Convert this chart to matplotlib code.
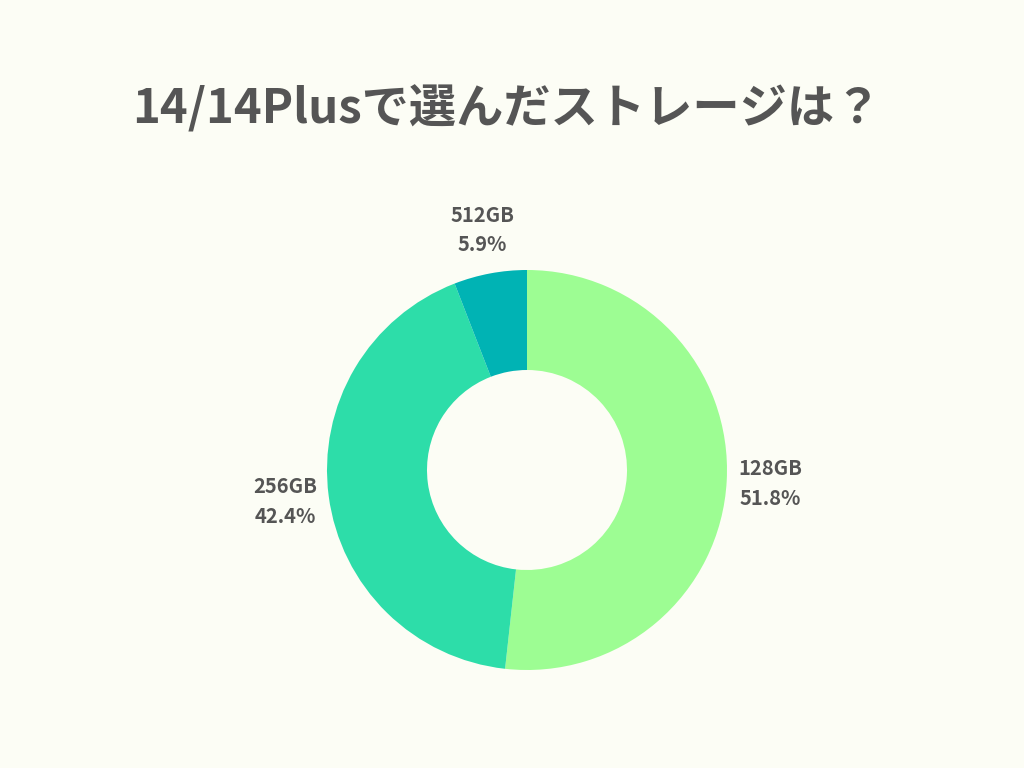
import matplotlib.pyplot as plt

plt.rcParams['font.family'] = ['Noto Sans CJK JP', 'DejaVu Sans']

labels = ['128GB', '256GB', '512GB']
values = [51.8, 42.4, 5.9]
colors = ['#9dfd93', '#2ddda9', '#00b3b4']
bg = '#fcfdf5'
txt = '#555555'

fig = plt.figure(figsize=(10.24, 7.68), dpi=100, facecolor=bg)
fig.text(0.495, 0.858, '14/14Plusで選んだストレージは？', ha='center', va='center',
         fontsize=34, fontweight='bold', color=txt)

ax = fig.add_axes([327 / 1024, 98 / 768, 400 / 1024, 400 / 768])
ax.set_facecolor(bg)
wedges, texts = ax.pie(values, colors=colors, startangle=90, counterclock=False,
                       radius=1, wedgeprops=dict(width=0.5, linewidth=0),
                       labels=[f'{l}\n{v}%' for l, v in zip(labels, values)],
                       labeldistance=1.22,
                       textprops=dict(fontsize=14.5, fontweight='bold', color=txt,
                                      ha='center', va='center', linespacing=1.5))
ax.set_xlim(-1, 1)
ax.set_ylim(-1, 1)
ax.axis('off')

fig.savefig('out.png', dpi=100, facecolor=bg)
